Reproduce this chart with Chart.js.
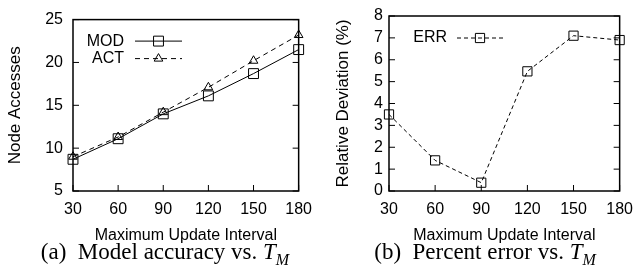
<!DOCTYPE html>
<html>
<head>
<meta charset="utf-8">
<script src="https://cdn.jsdelivr.net/npm/chart.js@4.4.0/dist/chart.umd.min.js"></script>
<style>
  body { margin: 0; background: #fff; width: 642px; height: 268px; position: relative; overflow: hidden; }
  .panel { position: absolute; top: 0; width: 321px; height: 268px; }
  .cap { position: absolute; top: 240px; font-family: "Liberation Serif", "Times New Roman", serif;
         font-size: 23px; line-height: 1; white-space: nowrap; transform: translateX(-50%); color: #000; }
  .cap sub { font-size: 16px; }
</style>
</head>
<body>
<div class="panel" style="left:0"><canvas id="chartAcc" width="321" height="268"></canvas></div>
<div class="panel" style="left:321px"><canvas id="chartErr" width="321" height="268"></canvas></div>
<div class="cap" style="left:165px">(a)&nbsp; Model accuracy vs. <i>T</i><sub><i>M</i></sub></div>
<div class="cap" style="left:485px">(b)&nbsp; Percent error vs. <i>T</i><sub><i>M</i></sub></div>
<script>
// datos
const INTERVALOS = [30, 60, 90, 120, 150, 180];
const MOD = [8.7, 11.1, 14.0, 16.1, 18.7, 21.5];
const ACT = [9.0, 11.3, 14.2, 17.1, 20.2, 23.2];
const ERR = [3.5, 1.4, 0.38, 5.47, 7.1, 6.9];
const TICKS_ACC = [5, 10, 15, 20, 25];
const TICKS_ERR = [0, 1, 2, 3, 4, 5, 6, 7, 8];

const FUENTE = '"Liberation Sans", Arial, sans-serif';

// marco y marcas hacia adentro, estilo gnuplot
const marco = {
  id: 'marco',
  beforeDatasetsDraw(chart) {
    const { ctx, chartArea: a, scales } = chart;
    const L = 6;
    ctx.save();
    ctx.strokeStyle = '#000';
    ctx.lineWidth = 1.5;
    ctx.strokeRect(a.left, a.top, a.right - a.left, a.bottom - a.top);
    ctx.lineWidth = 1;
    ctx.beginPath();
    scales.y.ticks.forEach(t => {
      const py = scales.y.getPixelForValue(t.value);
      ctx.moveTo(a.left, py); ctx.lineTo(a.left + L, py);
      ctx.moveTo(a.right, py); ctx.lineTo(a.right - L, py);
    });
    scales.x.ticks.forEach(t => {
      const px = scales.x.getPixelForValue(t.value);
      ctx.moveTo(px, a.bottom); ctx.lineTo(px, a.bottom - L);
    });
    ctx.stroke();
    ctx.restore();
  }
};

const leyenda = {
  id: 'leyenda',
  afterDraw(chart, args, opts) {
    const { ctx, chartArea: a } = chart;
    ctx.save();
    chart.data.datasets.forEach((ds, i) => {
      const y = a.top + opts.top + i * opts.rowH;
      const xt = a.left + opts.textRight;
      ctx.fillStyle = '#000';
      ctx.font = '16px ' + FUENTE;
      ctx.textAlign = 'right';
      ctx.textBaseline = 'middle';
      ctx.fillText(ds.label, xt, y);
      const x0 = xt + opts.gap, x1 = x0 + opts.len;
      ctx.strokeStyle = '#000';
      ctx.lineWidth = 1;
      ctx.setLineDash(ds.borderDash || []);
      ctx.beginPath(); ctx.moveTo(x0, y); ctx.lineTo(x1, y); ctx.stroke();
      ctx.setLineDash([]);
      ctx.fillStyle = 'rgba(0,0,0,0)';
      Chart.helpers.drawPoint(ctx, { pointStyle: ds.pointStyle, rotation: 0, radius: ds.pointRadius, borderWidth: 1 }, (x0 + x1) / 2, y);
    });
    ctx.restore();
  }
};

const serie = (label, xs, ys, estilo, radio, dash) => ({
  label: label,
  data: xs.map((x, i) => ({ x: x, y: ys[i] })),
  borderColor: '#000',
  borderWidth: 1,
  borderDash: dash,
  pointStyle: estilo,
  pointRadius: radio,
  pointBorderWidth: 1,
  pointBorderColor: '#000',
  pointBackgroundColor: 'rgba(0,0,0,0)',
  clip: false,
});

const opciones = (ymin, ymax, yticks, ytitulo, yTitPad, yTickPad, padRight, ley) => ({
  responsive: false,
  animation: false,
  layout: { padding: { left: 0, right: padRight, top: 16, bottom: 0 } },
  scales: {
    x: {
      type: 'linear', min: 30, max: 180,
      afterBuildTicks: s => { s.ticks = INTERVALOS.map(v => ({ value: v })); },
      afterFit: s => { s.height = 77; },
      grid: { display: false, drawTicks: false },
      border: { display: false },
      ticks: { padding: 9, autoSkip: false, maxRotation: 0, color: '#000', font: { family: FUENTE, size: 16 } },
      title: { display: true, text: 'Maximum Update Interval', color: '#000',
               font: { family: FUENTE, size: 16, lineHeight: 1 }, padding: { top: 0, bottom: 24 } },
    },
    y: {
      min: ymin, max: ymax,
      afterBuildTicks: s => { s.ticks = yticks.map(v => ({ value: v })); },
      afterFit: s => { s.width = ley.areaLeft; },
      grid: { display: false, drawTicks: false },
      border: { display: false },
      ticks: { padding: yTickPad, autoSkip: false, color: '#000', font: { family: FUENTE, size: 16 } },
      title: { display: true, text: ytitulo, color: '#000',
               font: { family: FUENTE, size: 17, lineHeight: 1 }, padding: { top: yTitPad, bottom: 0 } },
    },
  },
  plugins: { legend: { display: false }, tooltip: { enabled: false }, leyenda: ley },
});

new Chart(document.getElementById('chartAcc'), {
  type: 'line',
  data: {
    datasets: [
      serie('MOD', INTERVALOS, MOD, 'rect', 7, []),
      serie('ACT', INTERVALOS, ACT, 'triangle', 5, [5, 4]),
    ],
  },
  options: opciones(5, 25, TICKS_ACC, 'Node Accesses', 6.5, 10, 20,
    { areaLeft: 73, textRight: 51, top: 21.5, rowH: 17.5, gap: 11, len: 47 }),
  plugins: [marco, leyenda],
});

new Chart(document.getElementById('chartErr'), {
  type: 'line',
  data: {
    datasets: [
      serie('ERR', INTERVALOS, ERR, 'rect', 6.5, [4, 3]),
    ],
  },
  options: opciones(0, 8, TICKS_ERR, 'Relative Deviation (%)', 13.5, 6, 14,
    { areaLeft: 68, textRight: 58, top: 22, rowH: 17.5, gap: 10, len: 46 }),
  plugins: [marco, leyenda],
});
</script>
</body>
</html>
